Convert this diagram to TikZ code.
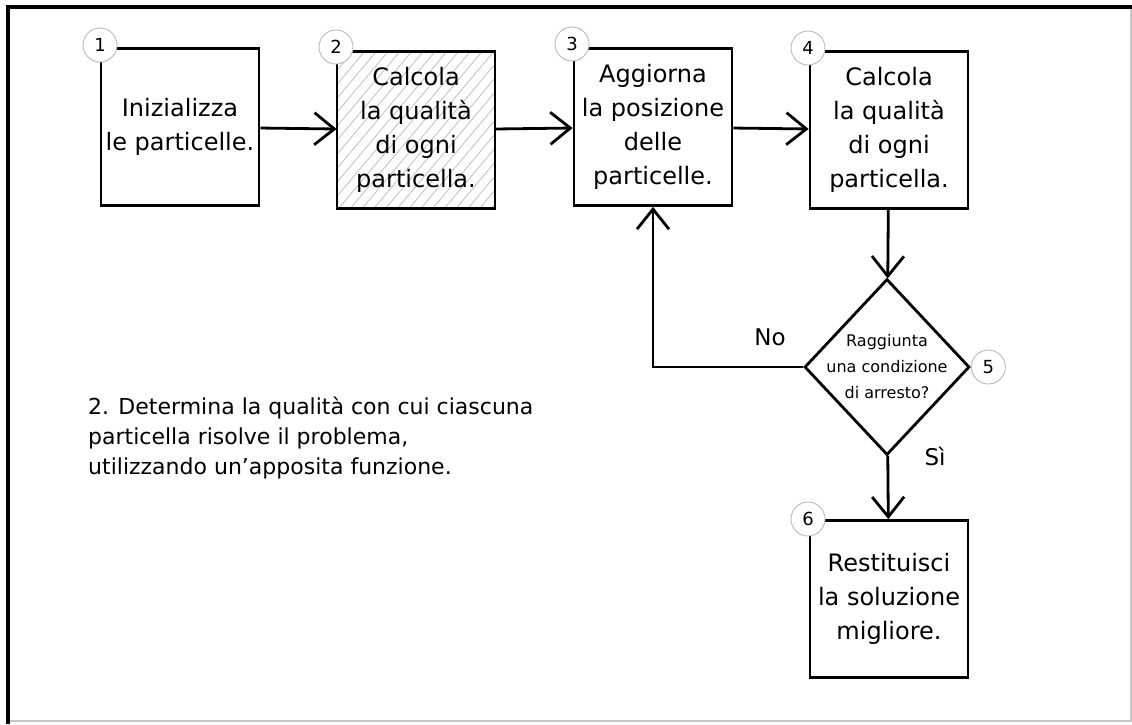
\documentclass[tikz,border=0pt]{standalone}
\usepackage{fontspec}
\setmainfont{DejaVu Sans}
\usetikzlibrary{positioning,arrows.meta,shapes.geometric,patterns.meta}

\tikzset{
  stepbox/.style={draw,line width=2.8pt,minimum width=158pt,minimum height=157pt,
    inner sep=0pt,align=center,font=\fontsize{24}{34}\selectfont},
  decision/.style={draw,diamond,line width=2.8pt,minimum width=165pt,
    minimum height=176pt,inner sep=0pt},
  stepnum/.style={circle,draw=gray!55,line width=0.9pt,fill=white,
    minimum size=34pt,inner sep=0pt,font=\fontsize{18}{18}\selectfont},
  flow/.style={line width=2.8pt,
    -{Straight Barb[length=20pt,width=32pt,line width=2.8pt]}},
}

\begin{document}
\begin{tikzpicture}[x=1pt,y=-1pt]
  \useasboundingbox (0,0) rectangle (1132,724);
  \fill[white] (0,0) rectangle (1132,724);
  % frame
  \draw[gray!45,line width=1.2pt] (8,721) -- (1131,721) -- (1131,7);
  \draw[line width=4pt] (8,724) -- (8,7) -- (1132,7);

  % steps
  \node[stepbox] (init) at (180,127) {Inizializza\\le particelle.};
  \node[stepbox,pattern={Lines[angle=50,distance=9pt,line width=0.8pt]},
    pattern color=gray!50] (eval) at (416,130) {Calcola\\la qualità\\di ogni\\particella.};
  \node[stepbox] (move) at (653,127) {Aggiorna\\la posizione\\delle\\particelle.};
  \node[stepbox] (evalb) at (889,130) {Calcola\\la qualità\\di ogni\\particella.};
  \node[decision] (stop) at (887,367) {};
  \node[align=center,font=\fontsize{16}{26}\selectfont] (stoptxt) at (stop)
    {Raggiunta\\una condizione\\di arresto?};
  \node[stepbox] (best) at (889,599) {Restituisci\\la soluzione\\migliore.};

  % connectors
  \draw[flow] (init) -- (eval);
  \draw[flow] (eval) -- (move);
  \draw[flow] (move) -- (evalb);
  \draw[flow] (evalb) -- (stop);
  \draw[flow] (stop) -- (best);
  \draw[flow] (stop.west) -| (move.south);
  \node[font=\fontsize{23}{23}\selectfont] (no) at (770,337) {No};
  \node[font=\fontsize{23}{23}\selectfont] (yes) at (935,456) {Sì};

  % step numbers
  \node[stepnum] (n1) at (100,45) {1};
  \node[stepnum] (n2) at (336,47) {2};
  \node[stepnum] (n3) at (572,44) {3};
  \node[stepnum] (n4) at (808,48) {4};
  \node[stepnum,anchor=west] (n5) at (stop.east) {5};
  \node[stepnum] (n6) at (808,519) {6};

  % note on step 2
  \node[anchor=north west,align=left,inner sep=0pt,
    font=\fontsize{22}{30}\selectfont] (note) at (88,397)
    {2. Determina la qualità con cui ciascuna\\particella risolve il problema,\\utilizzando un’apposita funzione.};
\end{tikzpicture}
\end{document}
